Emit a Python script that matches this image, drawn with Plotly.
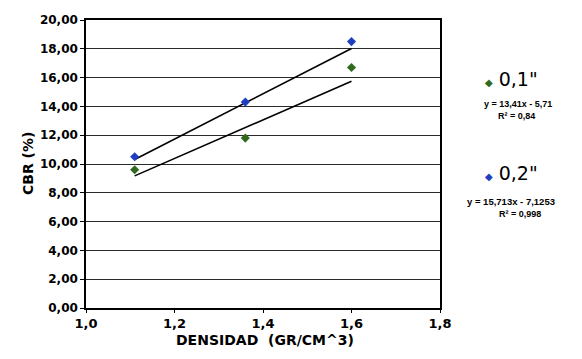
import plotly.graph_objects as go

densidad = [1.11, 1.36, 1.60]
cbr_01 = [9.6, 11.8, 16.7]
cbr_02 = [10.5, 14.3, 18.5]
fit_01 = (13.41, -5.71)
fit_02 = (15.713, -7.1253)
x_ticks = [1.0, 1.2, 1.4, 1.6, 1.8]
x_tick_text = ["1,0", "1,2", "1,4", "1,6", "1,8"]
y_ticks = [0, 2, 4, 6, 8, 10, 12, 14, 16, 18, 20]
y_tick_text = ["%d,00" % v for v in y_ticks]

FONT = "DejaVu Sans, sans-serif"
FONT2 = "Liberation Sans, Arial, sans-serif"
GREEN = "#2f6a1f"
BLUE = "#1f3fc0"

fig = go.Figure()
xs = [densidad[0], densidad[-1]]
for (m, b), col, ys in [(fit_01, GREEN, cbr_01), (fit_02, BLUE, cbr_02)]:
    fig.add_trace(go.Scatter(x=xs, y=[m * x + b for x in xs], mode="lines",
                             line=dict(color="black", width=1.6), showlegend=False))
    fig.add_trace(go.Scatter(x=densidad, y=ys, mode="markers",
                             marker=dict(symbol="diamond", size=7, color=col),
                             showlegend=False))

fig.update_layout(
    width=582, height=359,
    margin=dict(l=78, r=150, t=12, b=59),
    paper_bgcolor="white", plot_bgcolor="white",
    font=dict(family=FONT, color="black", size=12),
    xaxis=dict(range=[1.0, 1.8], tickvals=x_ticks, ticktext=x_tick_text,
               showgrid=False, showline=True, linecolor="black", linewidth=1.5,
               mirror=True, ticks="outside", ticklen=3, tickcolor="black",
               automargin=False,
               tickfont=dict(size=13, family=FONT, weight="bold")),
    yaxis=dict(range=[0, 20], tickvals=y_ticks, ticktext=y_tick_text,
               showgrid=True, gridcolor="#2a2a2a", gridwidth=1.4,
               showline=True, linecolor="black", linewidth=1.5, mirror=True,
               ticks="outside", ticklen=4, tickcolor="black", automargin=False,
               tickfont=dict(size=12, family=FONT, weight="bold")),
)

# axis titles
fig.add_annotation(x=0.506, y=-0.146, xref="paper", yref="paper",
                   text="<b>DENSIDAD  (GR/CM^3)</b>", showarrow=False,
                   font=dict(size=14, family=FONT, color="black"))
fig.add_annotation(x=-0.192, y=0.5, xref="paper", yref="paper",
                   text="<b>CBR (%)</b>", showarrow=False, textangle=-90,
                   font=dict(size=14, family=FONT, color="black"))

ann = [
    (1.203, 0.795, '<span style="color:%s;font-size:10px">◆</span> 0,1"' % GREEN, 19, FONT),
    (1.22, 0.710, "<b>y = 13,41x - 5,71</b>", 9, FONT2),
    (1.215, 0.668, "<b>R² = 0,84</b>", 9, FONT2),
    (1.203, 0.469, '<span style="color:%s;font-size:10px">◆</span> 0,2"' % BLUE, 19, FONT),
    (1.20, 0.370, "<b>y = 15,713x - 7,1253</b>", 9.5, FONT2),
    (1.225, 0.326, "<b>R² = 0,998</b>", 9, FONT2),
]
for x, y, t, s, f in ann:
    fig.add_annotation(x=x, y=y, xref="paper", yref="paper", text=t, showarrow=False,
                       font=dict(size=s, family=f, color="black"), xanchor="center",
                       yanchor="middle")

fig.write_html("out.html")
